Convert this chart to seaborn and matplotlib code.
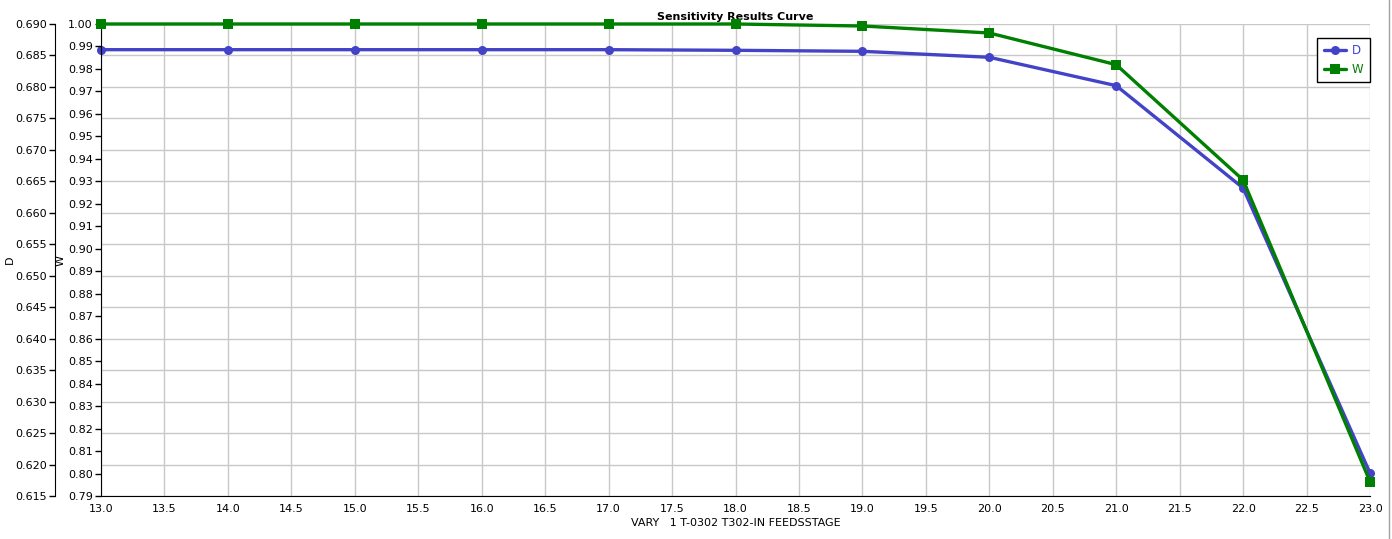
import numpy as np
import pandas as pd
import matplotlib
matplotlib.use("Agg")
import matplotlib.pyplot as plt
import seaborn as sns
from matplotlib.ticker import FormatStrFormatter
from matplotlib.lines import Line2D

# data
feed_stage = [13.0, 14.0, 15.0, 16.0, 17.0, 18.0, 19.0, 20.0, 21.0, 22.0, 23.0]
d_values = [0.68592, 0.68592, 0.68592, 0.68592, 0.68592, 0.68582, 0.68566,
            0.68471, 0.68020, 0.66394, 0.61865]
w_values = [1.0000, 1.0000, 1.0000, 1.0000, 1.0000, 1.0000, 0.99911,
            0.99600, 0.98190, 0.93060, 0.79640]

x_ticks = np.arange(13.0, 23.01, 0.5)
d_ticks = np.arange(0.615, 0.6901, 0.005)
w_ticks = np.arange(0.79, 1.0001, 0.01)

df = pd.DataFrame({'stage': feed_stage, 'D': d_values, 'W': w_values})

sns.set_style("white")
plt.rcParams['font.family'] = ['DejaVu Sans']
plt.rcParams['font.size'] = 8
plt.rcParams['text.color'] = 'black'
plt.rcParams['axes.labelcolor'] = 'black'

d_color = '#4343c8'
w_color = '#008000'

fig = plt.figure(figsize=(13.92, 5.39), dpi=100)
W_PX, H_PX = 1392, 539
left, right, top, bottom = 101, 1370, 24, 496
ax = fig.add_axes([left / W_PX, 1 - bottom / H_PX, (right - left) / W_PX, (bottom - top) / H_PX])

# D axis is the host (grid follows its ticks), pushed out to the left
sns.lineplot(data=df, x='stage', y='D', ax=ax, color=d_color, linewidth=2.4,
             marker='o', markersize=6.5, markeredgewidth=0, label='D', legend=False,
             clip_on=False, zorder=3)
ax.set_xlim(13.0, 23.0)
ax.set_ylim(0.615, 0.690)
ax.set_xticks(x_ticks)
ax.set_yticks(d_ticks)
ax.xaxis.set_major_formatter(FormatStrFormatter('%.1f'))
ax.yaxis.set_major_formatter(FormatStrFormatter('%.3f'))
ax.grid(True, color='#c8c8c8', linewidth=1.0)
ax.set_axisbelow(True)
for s in ['top', 'right']:
    ax.spines[s].set_visible(False)
ax.spines['left'].set_position(('outward', 46 * 0.72))
ax.spines['left'].set_color('black')
ax.spines['bottom'].set_color('black')
ax.tick_params(axis='both', direction='out', length=4, width=1, colors='black',
               labelsize=8, pad=2)
ax.set_xlabel('VARY   1 T-0302 T302-IN FEEDSSTAGE', fontsize=8, labelpad=3)
ax.set_ylabel('D', fontsize=8)
ax.yaxis.set_label_coords((15 - left) / (right - left), 0.5)

# W axis on the plot's own left edge
ax_w = ax.twinx()
sns.lineplot(data=df, x='stage', y='W', ax=ax_w, color=w_color, linewidth=2.4,
             marker='s', markersize=6.5, markeredgewidth=0, label='W', legend=False,
             clip_on=False, zorder=3)
ax_w.set_ylim(0.79, 1.00)
ax_w.set_yticks(w_ticks)
ax_w.yaxis.set_major_formatter(FormatStrFormatter('%.2f'))
ax_w.yaxis.set_ticks_position('left')
ax_w.yaxis.set_label_position('left')
ax_w.spines['left'].set_visible(True)
ax_w.spines['left'].set_color('black')
for s in ['top', 'right', 'bottom']:
    ax_w.spines[s].set_visible(False)
ax_w.tick_params(axis='y', direction='out', length=4, width=1, colors='black',
                 labelsize=8, pad=2)
ax_w.grid(False)
ax_w.set_ylabel('W', fontsize=8)
ax_w.yaxis.set_label_coords((66 - left) / (right - left), 0.5)

ax.set_title('Sensitivity Results Curve', fontsize=8, fontweight='bold', pad=3, color='black')

handles = [ax.get_lines()[0], ax_w.get_lines()[0]]
leg = ax_w.legend(handles, ['D', 'W'], loc='upper right',
                  bbox_to_anchor=(1.0, 1 - 14 / (bottom - top)), borderaxespad=0,
                  fancybox=False, framealpha=1, edgecolor='black', fontsize=8.5,
                  handlelength=1.9, handletextpad=0.5, borderpad=0.55, labelspacing=0.45)
leg.get_frame().set_linewidth(1.0)
leg.get_texts()[0].set_color(d_color)
leg.get_texts()[1].set_color(w_color)

# thin grey frame edge at the right of the picture
fig.add_artist(Line2D([1389 / W_PX, 1389 / W_PX], [0, 1], color='#a0a0a0', linewidth=1,
                      transform=fig.transFigure))

fig.savefig('out.png', dpi=100)
